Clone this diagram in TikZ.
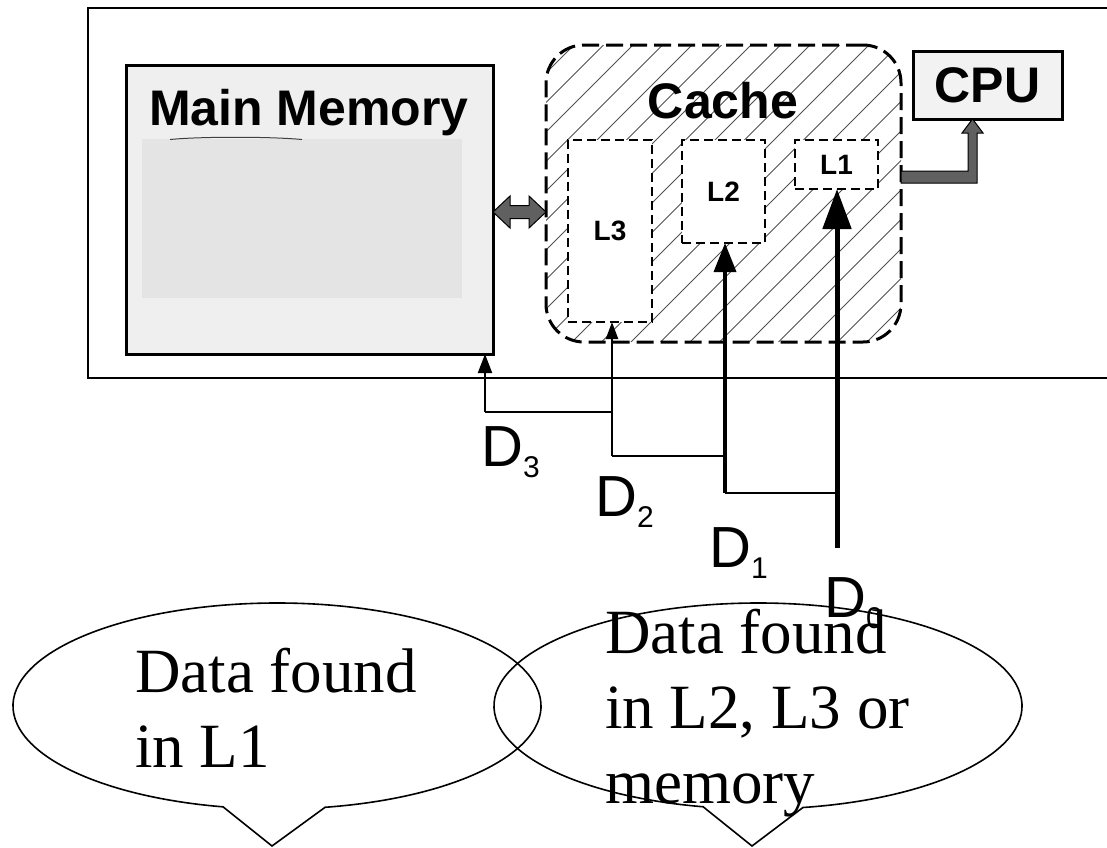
\documentclass[tikz,border=0pt]{standalone}
\usepackage{fontspec}
\setmainfont{Liberation Serif}
\setsansfont{Liberation Sans}
\usetikzlibrary{arrows.meta,calc}

\definecolor{boxgray}{HTML}{EFEFEF}
\definecolor{innergray}{HTML}{E4E4E4}
\definecolor{cpugray}{HTML}{F2F2F2}
\definecolor{busgray}{HTML}{606060}
\definecolor{hatchgray}{HTML}{505050}

\tikzset{
  solidbox/.style={draw, line width=3, fill=boxgray, inner sep=0pt, outer sep=0pt, anchor=north west},
  levelbox/.style={draw, line width=2.5, dash pattern=on 9pt off 5pt, fill=white,
                   inner sep=0pt, outer sep=0pt, anchor=north west,
                   font=\sffamily\bfseries\fontsize{28}{30}\selectfont},
  biglabel/.style={font=\sffamily\bfseries\fontsize{50}{56}\selectfont, anchor=base},
  dlabel/.style={font=\sffamily\fontsize{58}{62}\selectfont, anchor=base west, inner sep=0pt},
  bubbletext/.style={font=\fontsize{63}{75}\selectfont, anchor=base west, inner sep=0pt},
  bus/.style={draw=black, line width=1, fill=busgray, line join=miter},
  bubble/.style={draw, line width=1.6, line join=miter},
  thinpath/.style={line width=2},
}
\newcommand{\dsub}[1]{\raisebox{-11pt}{\fontsize{30}{30}\selectfont #1}}

\begin{document}
\begin{tikzpicture}[x=1pt, y=-1pt]
\useasboundingbox (0,0) rectangle (1107,847);

% system frame (open on the right)
\node[draw, line width=2.2, inner sep=0pt, outer sep=0pt, anchor=north west,
      minimum width=1060pt, minimum height=370pt] (system) at (88,8) {};

% main memory
\node[solidbox, minimum width=367pt, minimum height=289pt] (mainmem) at (126,65) {};
\fill[innergray] (142,139) rectangle (462,298);
\draw[line width=1, black!75] (170,139.5) .. controls (200,136.5) and (270,136.5) .. (302,139.5);
\node[biglabel] (memlabel) at (309,125) {Main Memory};

% cache with hatching
\begin{scope}
  \clip[rounded corners=38] (546,45) rectangle (901,342);
  \foreach \c in {560,589.5,...,1280}
    \draw[hatchgray, line width=0.8] (\c-45,45) -- (\c-342,342);
\end{scope}
\node[draw, line width=3, dash pattern=on 17pt off 7pt, rounded corners=38,
      inner sep=0pt, outer sep=0pt, anchor=north west,
      minimum width=355pt, minimum height=297pt] (cache) at (546,45) {};
\node[biglabel] (cachelabel) at (723,118) {Cache};

% cache levels
\node[levelbox, minimum width=84pt, minimum height=182pt] (l3) at (568,140) {L3};
\node[levelbox, minimum width=83pt, minimum height=103pt] (l2) at (682,140) {L2};
\node[levelbox, minimum width=83pt, minimum height=49pt] (l1) at (795,140) {L1};

% CPU
\node[solidbox, fill=cpugray, minimum width=149pt, minimum height=68pt,
      font=\sffamily\bfseries\fontsize{50}{56}\selectfont] (cpu) at (913,51) {CPU};

% memory <-> cache bus
\coordinate (ml) at (mainmem.east |- 0,212);
\coordinate (cr) at (cache.west |- 0,212);
\draw[bus] (ml) -- ($(ml)+(17,-16)$) -- ($(ml)+(17,-6.5)$) -- ($(cr)+(-17,-6.5)$)
  -- ($(cr)+(-17,-16)$) -- (cr) -- ($(cr)+(-17,16)$) -- ($(cr)+(-17,6.5)$)
  -- ($(ml)+(17,6.5)$) -- ($(ml)+(17,16)$) -- cycle;

% cache -> CPU bus
\coordinate (ce) at (cache.east |- 0,177);
\coordinate (cpuin) at (cpu.south -| 972.5,0);
\draw[bus] ($(ce)+(0,-6)$) -- (968,171) -- (968,133) -- (962,133) -- (cpuin)
  -- (983,133) -- (977,133) -- (977,183) -- ($(ce)+(0,6)$) -- cycle;

% access paths
\coordinate (d3) at (485,412);
\coordinate (d2) at (612,456);
\coordinate (d1) at (725,493);
\coordinate (d0) at (837,548);

\draw[thinpath, -{Triangle[length=19pt,width=14pt]}] (d3) -- (d3 |- mainmem.south);
\draw[thinpath] (d3) -- (d3 -| d2);
\draw[line width=2.3, -{Triangle[length=17pt,width=12pt]}] (d2) -- (d2 |- l3.south);
\draw[thinpath] (d2) -- (d2 -| d1);
\draw[line width=3.5, -{Triangle[length=29pt,width=22pt]}] (d1) -- (d1 |- l2.south);
\draw[thinpath] (d1) -- (d1 -| d0);
\draw[line width=5, -{Triangle[length=40pt,width=28pt]}] (d0) -- (d0 |- l1.south);

\node[dlabel] (lab3) at (481,466) {D\dsub{3}};
\node[dlabel] (lab2) at (595,516) {D\dsub{2}};
\node[dlabel] (lab1) at (709,567) {D\dsub{1}};
\node[dlabel] (lab0) at (824,617) {D\dsub{0}};

% speech bubbles
\coordinate (lb) at (277,706);
\draw[bubble] ($(lb)+(79.5:264 and 103)$) arc[start angle=79.5, end angle=-258.2, x radius=264, y radius=103]
  -- (272,846) -- cycle;
\coordinate (rb) at (758,706);
\draw[bubble] ($(rb)+(80.2:264 and 103)$) arc[start angle=80.2, end angle=-258, x radius=264, y radius=103]
  -- (752,846) -- cycle;

\node[bubbletext] (ltxt1) at (135,692) {Data found};
\node[bubbletext] (ltxt2) at (135,767) {in L1};
\node[bubbletext] (rtxt1) at (605,653) {Data found};
\node[bubbletext] (rtxt2) at (605,728) {in L2, L3 or};
\node[bubbletext] (rtxt3) at (605,803) {memory};
\end{tikzpicture}
\end{document}
